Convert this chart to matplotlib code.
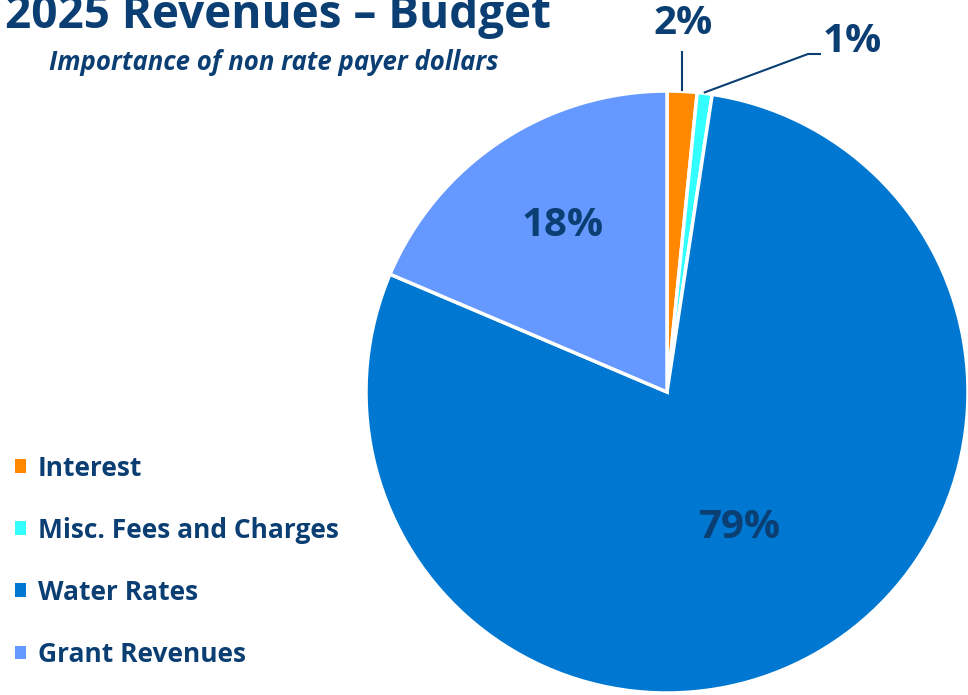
import numpy as np
import matplotlib
matplotlib.use("Agg")
import matplotlib.pyplot as plt
from matplotlib.patches import Patch

categories = ["Interest", "Misc. Fees and Charges", "Water Rates", "Grant Revenues"]
values = [1.6, 0.8, 79.0, 18.6]
pct_labels = ["2%", "1%", "79%", "18%"]
colors = ["#FF8800", "#33FFFF", "#0077D0", "#6699FF"]
title = "2025 Revenues \u2013 Budget"
subtitle = "Importance of non rate payer dollars"

NAVY = "#0B3F73"
FONT = "Open Sans"

W, H = 968, 695
fig = plt.figure(figsize=(W / 100, H / 100), dpi=100)
ax = fig.add_axes([0, 0, 1, 1])

cx, cy, R = 667, H - 392, 301
wedges, _ = ax.pie(values, colors=colors, startangle=90, counterclock=False,
                   center=(cx, cy), radius=R,
                   wedgeprops=dict(edgecolor="white", linewidth=2.5))
ax.set_xlim(0, W)
ax.set_ylim(0, H)
ax.set_aspect("auto")
ax.axis("off")

def pt(w, frac=1.0):
    th = np.deg2rad((w.theta1 + w.theta2) / 2)
    return cx + frac * R * np.cos(th), cy + frac * R * np.sin(th)

PS = 29
# inner labels
inner_pos = {2: (740, H - 527), 3: (563, H - 226)}
for i, (x, y) in inner_pos.items():
    ax.text(x, y, pct_labels[i], ha="center", va="center", fontsize=PS,
            fontweight="bold", color=NAVY, family=FONT)

# outer labels with leader lines
x0, y0 = pt(wedges[0])
ax.plot([x0, x0], [y0 + 1, H - 52], color=NAVY, lw=1.5)
ax.text(x0 + 1, H - 24, pct_labels[0], ha="center", va="center", fontsize=PS,
        fontweight="bold", color=NAVY, family=FONT)
x1, y1 = pt(wedges[1])
ax.plot([x1, 808, 820], [y1 + 1, H - 54, H - 54], color=NAVY, lw=1.5)
ax.text(823, H - 42, pct_labels[1], ha="left", va="center", fontsize=PS,
        fontweight="bold", color=NAVY, family=FONT)

fig.text(5 / W, 1 - 28 / H, title, ha="left", va="baseline", fontsize=33,
         fontweight="bold", color=NAVY, family=FONT)
fig.text(274 / W, 1 - 70 / H, subtitle, ha="center", va="baseline", fontsize=18.5,
         fontweight="bold", style="italic", color=NAVY, family=FONT)

handles = [Patch(facecolor=c, edgecolor="none") for c in colors]
leg = ax.legend(handles, categories, loc="upper left",
                bbox_to_anchor=(4 / W, 1 - 444 / H), frameon=False,
                handlelength=0.43, handleheight=0.43, handletextpad=0.45,
                labelspacing=1.33, borderaxespad=0,
                prop=dict(family=FONT, weight="bold", size=19))
for t in leg.get_texts():
    t.set_color(NAVY)

fig.savefig("out.png", dpi=100)
